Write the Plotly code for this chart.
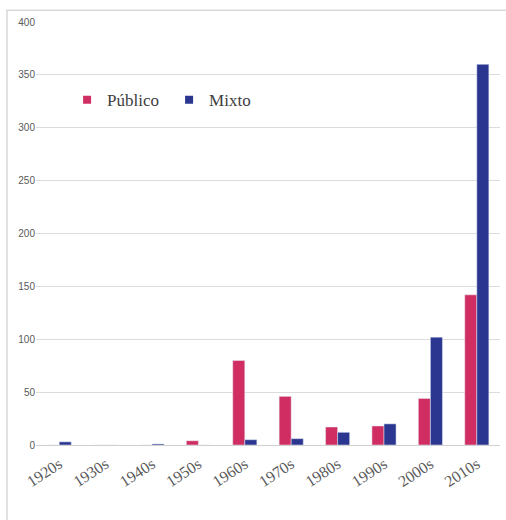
import plotly.graph_objects as go

decades = ["1920s", "1930s", "1940s", "1950s", "1960s", "1970s", "1980s", "1990s", "2000s", "2010s"]
publico = [0, 0, 0, 4, 80, 46, 17, 18, 44, 142]
mixto = [3, 0, 1, 0, 5, 6, 12, 20, 102, 360]
y_ticks = [0, 50, 100, 150, 200, 250, 300, 350, 400]

PINK = "#D02E62"
NAVY = "#2B3690"
SERIF = "Liberation Serif, Times New Roman, serif"

fig = go.Figure()
fig.add_trace(go.Bar(name="Público", x=decades, y=publico, marker=dict(color=PINK), showlegend=False))
fig.add_trace(go.Bar(name="Mixto", x=decades, y=mixto, marker=dict(color=NAVY), showlegend=False))
# legend entries with small square swatches
fig.add_trace(go.Scatter(name="Público", x=[None], y=[None], mode="markers",
                         marker=dict(symbol="square", size=8, color=PINK)))
fig.add_trace(go.Scatter(name="Mixto", x=[None], y=[None], mode="markers",
                         marker=dict(symbol="square", size=8, color=NAVY)))

fig.update_layout(
    width=506, height=520,
    margin=dict(l=36, r=6, t=22, b=75),
    paper_bgcolor="white", plot_bgcolor="white",
    barmode="group", bargap=0.48, bargroupgap=0,
    showlegend=True,
    legend=dict(orientation="h", x=0.067, y=0.815, xanchor="left", yanchor="middle",
                font=dict(family=SERIF, size=17, color="#404040"),
                bgcolor="rgba(0,0,0,0)", itemwidth=30, entrywidth=57, traceorder="normal"),
    xaxis=dict(tickangle=-33, tickfont=dict(family=SERIF, size=16, color="#595959"),
               showgrid=False, showline=False, ticks="", ticklabelstandoff=6, range=[-0.5, 9.5]),
    yaxis=dict(range=[0, 400], tickvals=y_ticks, showgrid=True, gridcolor="#dcdcdc", gridwidth=1,
               zeroline=True, zerolinecolor="#d0d0d0", zerolinewidth=1, showline=False, ticks="",
               tickfont=dict(family="Liberation Sans, Arial, sans-serif", size=10, color="#595959")),
    shapes=[dict(type="rect", xref="paper", yref="paper", x0=-0.0625, x1=1.03, y0=-0.3, y1=1.028,
                 line=dict(color="#d9d9d9", width=1.5), fillcolor="rgba(0,0,0,0)", layer="below")],
)

fig.write_html("out.html")
